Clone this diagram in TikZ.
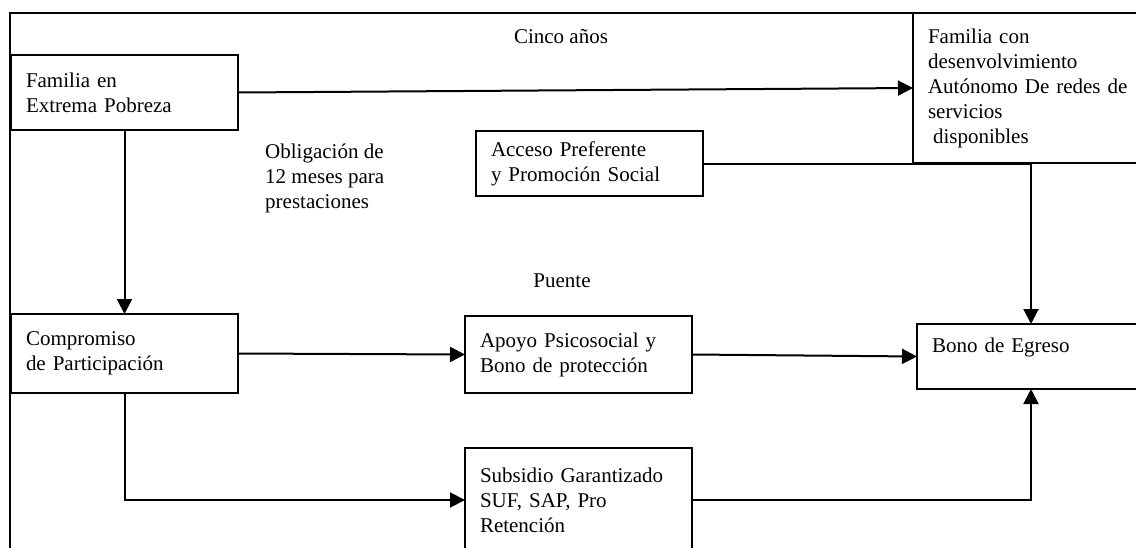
\documentclass[tikz,border=0pt]{standalone}
\usepackage{fontspec}
\setmainfont{Liberation Serif}
\usetikzlibrary{arrows.meta}

\begin{document}
\begin{tikzpicture}[x=1pt, y=-1pt, every text node part/.style={align=left},
  every node/.style={font=\fontsize{21}{25}\selectfont}]

\tikzstyle{box}=[draw, line width=2.2pt, outer sep=0pt, inner xsep=15pt, inner ysep=0pt,
  anchor=north west, text width=197pt]
\tikzstyle{lbl}=[inner sep=0pt]
\tikzstyle{line}=[draw, line width=2pt]
\tikzstyle{arr}=[line, -{Triangle[length=15pt, width=15pt]}]

\path [use as bounding box, clip] (0,0) rectangle (1136,547);
\draw [line width=2.2pt] (10,13) rectangle (1200,600);

\node (fep) [box, minimum height=75pt] at (11, 55) {Familia en\\ Extrema Pobreza};
\node (fcd) [box, minimum height=150pt, text width=206pt] at (913, 13)
{Familia con\\ desenvolvimiento\\ Autónomo De redes de\\ servicios\\ \hspace*{5pt}disponibles};
\node (acc) [box, minimum height=65pt] at (476, 131) {Acceso Preferente\\ y Promoción Social};

\node (comp) [box, minimum height=79pt] at (11, 314) {Compromiso\\ de Participación};
\node (apo) [box, minimum height=77pt] at (465, 316) {Apoyo Psicosocial y\\ Bono de protección};
\node (bono) [box, minimum height=65pt, text width=198pt] at (917, 324) {Bono de Egreso\\[-10pt] \strut};
\node (sub) [box, minimum height=104pt] at (465, 448) {Subsidio Garantizado\\ SUF, SAP, Pro\\ Retención};

\node (cinco) [lbl, anchor=base] at (561, 43) {Cinco años};
\node (oblig) [lbl, anchor=north west] at (265, 144) {Obligación de\\ 12 meses para\\ prestaciones};
\node (puente) [lbl, anchor=base] at (562, 287) {Puente};

\path [arr] (fep.east) -- (fcd.west);
\path [arr] (fep.south) -- (comp.north);
\path [arr] (comp.east) -- (apo.west);
\path [arr] (apo.east) -- (bono.west);
\path [arr] (comp.south) |- (sub.west);
\path [arr] (sub.east) -| (bono.south);
\path [line] (acc.east) -- (acc.east -| fcd.south);
\path [arr] (fcd.south) -- (bono.north);

\end{tikzpicture}
\end{document}
